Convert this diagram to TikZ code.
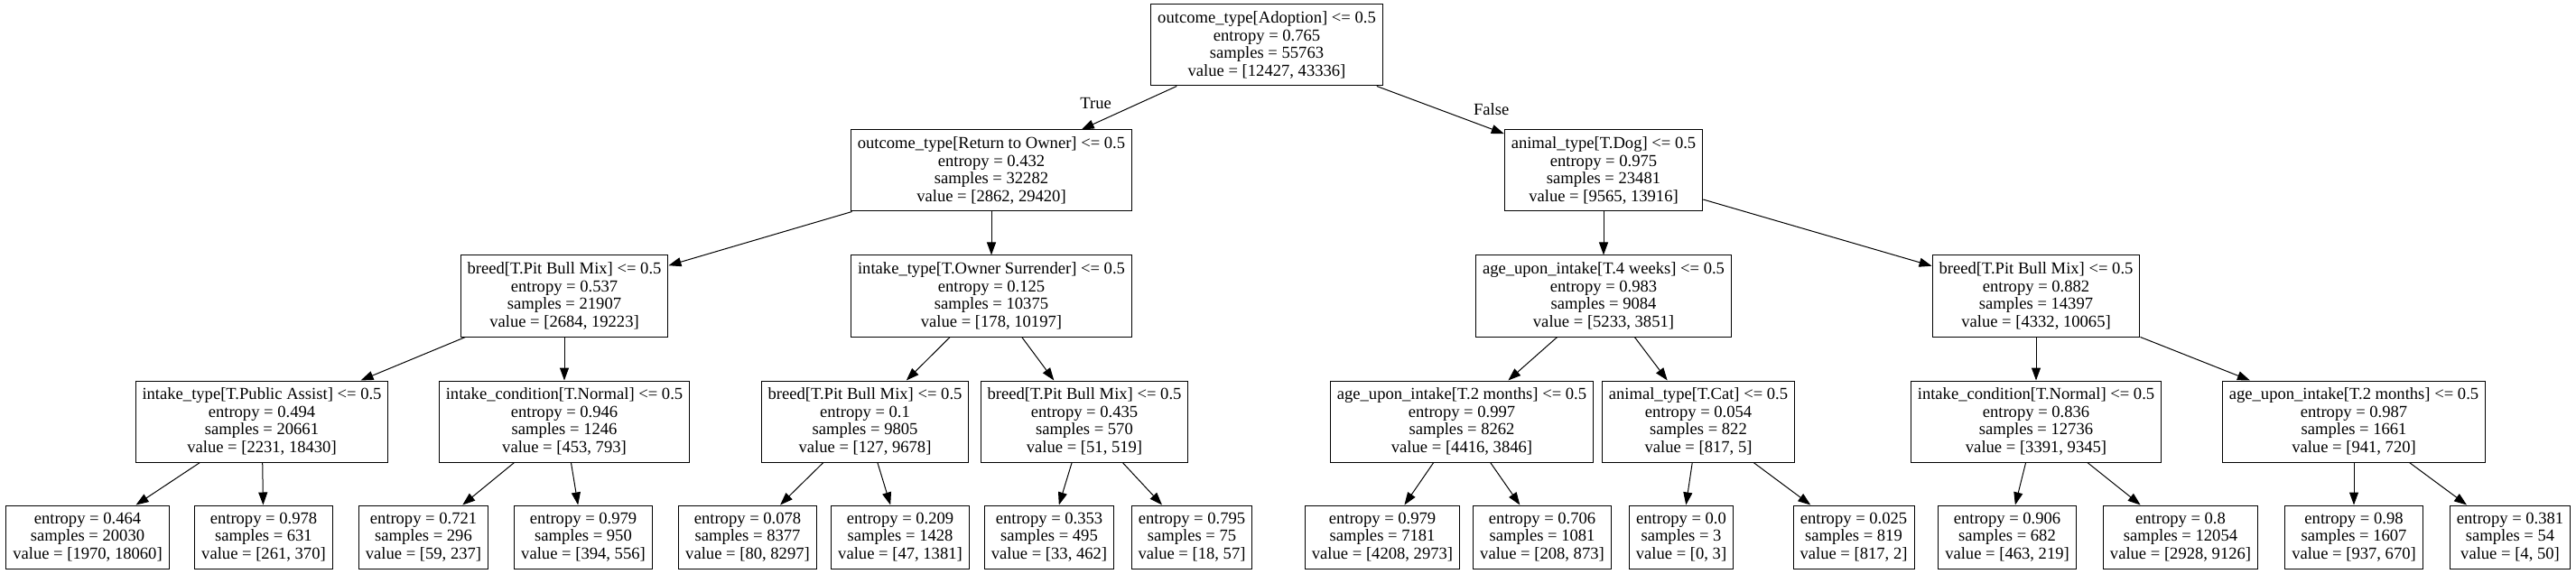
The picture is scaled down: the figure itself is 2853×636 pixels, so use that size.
\documentclass[tikz,border=0pt]{standalone}
\usepackage{fontspec}
\setmainfont{Liberation Serif}
\usepackage{tikz}
\usetikzlibrary{arrows.meta}
\newcommand{\Dsplit}[4]{#1 <= 0.5\\entropy = #2\\samples = #3\\value = [#4]}
\newcommand{\Dleaf}[3]{entropy = #1\\samples = #2\\value = [#3]}

\begin{document}
\begin{tikzpicture}[x=1pt,y=-1pt]
\tikzstyle{test}=[rectangle, draw=black, line width=1pt, align=center, inner xsep=7.5pt, minimum height=90pt, font=\fontsize{18.6}{19.7}\selectfont]
\tikzstyle{leaf}=[test, minimum height=70pt]
\tikzstyle{connect}=[-{Triangle[length=14pt,width=10pt]}, line width=1pt]
\tikzstyle{branch}=[font=\fontsize{18.6}{19.7}\selectfont, inner sep=1pt]
\useasboundingbox (0,0) rectangle (2853,636);
	\node[test] (root) at (1403,50) {\Dsplit{outcome\_type[Adoption]}{0.765}{55763}{12427, 43336}};

	\node[test] (t_1) at (1098,189) {\Dsplit{outcome\_type[Return to Owner]}{0.432}{32282}{2862, 29420}};
	\node[test] (t_2) at (1776,189) {\Dsplit{animal\_type[T.Dog]}{0.975}{23481}{9565, 13916}};

	\node[test] (t_3) at (625,328) {\Dsplit{breed[T.Pit Bull Mix]}{0.537}{21907}{2684, 19223}};
	\node[test] (t_4) at (1098,328) {\Dsplit{intake\_type[T.Owner Surrender]}{0.125}{10375}{178, 10197}};
	\node[test] (t_5) at (1776,328) {\Dsplit{age\_upon\_intake[T.4 weeks]}{0.983}{9084}{5233, 3851}};
	\node[test] (t_6) at (2255,328) {\Dsplit{breed[T.Pit Bull Mix]}{0.882}{14397}{4332, 10065}};

	\node[test] (t_7) at (290,467) {\Dsplit{intake\_type[T.Public Assist]}{0.494}{20661}{2231, 18430}};
	\node[test] (t_8) at (625,467) {\Dsplit{intake\_condition[T.Normal]}{0.946}{1246}{453, 793}};
	\node[test] (t_9) at (958,467) {\Dsplit{breed[T.Pit Bull Mix]}{0.1}{9805}{127, 9678}};
	\node[test] (t_10) at (1201,467) {\Dsplit{breed[T.Pit Bull Mix]}{0.435}{570}{51, 519}};
	\node[test] (t_11) at (1619,467) {\Dsplit{age\_upon\_intake[T.2 months]}{0.997}{8262}{4416, 3846}};
	\node[test] (t_12) at (1881,467) {\Dsplit{animal\_type[T.Cat]}{0.054}{822}{817, 5}};
	\node[test] (t_13) at (2255,467) {\Dsplit{intake\_condition[T.Normal]}{0.836}{12736}{3391, 9345}};
	\node[test] (t_14) at (2607,467) {\Dsplit{age\_upon\_intake[T.2 months]}{0.987}{1661}{941, 720}};

	\node[leaf] (l_1) at (97,595) {\Dleaf{0.464}{20030}{1970, 18060}};
	\node[leaf] (l_2) at (292,595) {\Dleaf{0.978}{631}{261, 370}};
	\node[leaf] (l_3) at (469,595) {\Dleaf{0.721}{296}{59, 237}};
	\node[leaf] (l_4) at (646,595) {\Dleaf{0.979}{950}{394, 556}};
	\node[leaf] (l_5) at (828,595) {\Dleaf{0.078}{8377}{80, 8297}};
	\node[leaf] (l_6) at (997,595) {\Dleaf{0.209}{1428}{47, 1381}};
	\node[leaf] (l_7) at (1162,595) {\Dleaf{0.353}{495}{33, 462}};
	\node[leaf] (l_8) at (1320,595) {\Dleaf{0.795}{75}{18, 57}};
	\node[leaf] (l_9) at (1531,595) {\Dleaf{0.979}{7181}{4208, 2973}};
	\node[leaf] (l_10) at (1708,595) {\Dleaf{0.706}{1081}{208, 873}};
	\node[leaf] (l_11) at (1862,595) {\Dleaf{0.0}{3}{0, 3}};
	\node[leaf] (l_12) at (2053,595) {\Dleaf{0.025}{819}{817, 2}};
	\node[leaf] (l_13) at (2223,595) {\Dleaf{0.906}{682}{463, 219}};
	\node[leaf] (l_14) at (2415,595) {\Dleaf{0.8}{12054}{2928, 9126}};
	\node[leaf] (l_15) at (2607,595) {\Dleaf{0.98}{1607}{937, 670}};
	\node[leaf] (l_16) at (2780,595) {\Dleaf{0.381}{54}{4, 50}};

	\path
		(root) edge [connect] node[branch, pos=0.85, above=14pt] {True} (t_1)
		(root) edge [connect] node[branch, pos=0.9, above=14pt] {False} (t_2)
		(t_1) edge [connect] (t_3)
		(t_1) edge [connect] (t_4)
		(t_2) edge [connect] (t_5)
		(t_2) edge [connect] (t_6)
		(t_3) edge [connect] (t_7)
		(t_3) edge [connect] (t_8)
		(t_4) edge [connect] (t_9)
		(t_4) edge [connect] (t_10)
		(t_5) edge [connect] (t_11)
		(t_5) edge [connect] (t_12)
		(t_6) edge [connect] (t_13)
		(t_6) edge [connect] (t_14)
		(t_7) edge [connect] (l_1)
		(t_7) edge [connect] (l_2)
		(t_8) edge [connect] (l_3)
		(t_8) edge [connect] (l_4)
		(t_9) edge [connect] (l_5)
		(t_9) edge [connect] (l_6)
		(t_10) edge [connect] (l_7)
		(t_10) edge [connect] (l_8)
		(t_11) edge [connect] (l_9)
		(t_11) edge [connect] (l_10)
		(t_12) edge [connect] (l_11)
		(t_12) edge [connect] (l_12)
		(t_13) edge [connect] (l_13)
		(t_13) edge [connect] (l_14)
		(t_14) edge [connect] (l_15)
		(t_14) edge [connect] (l_16);

\end{tikzpicture}
\end{document}
